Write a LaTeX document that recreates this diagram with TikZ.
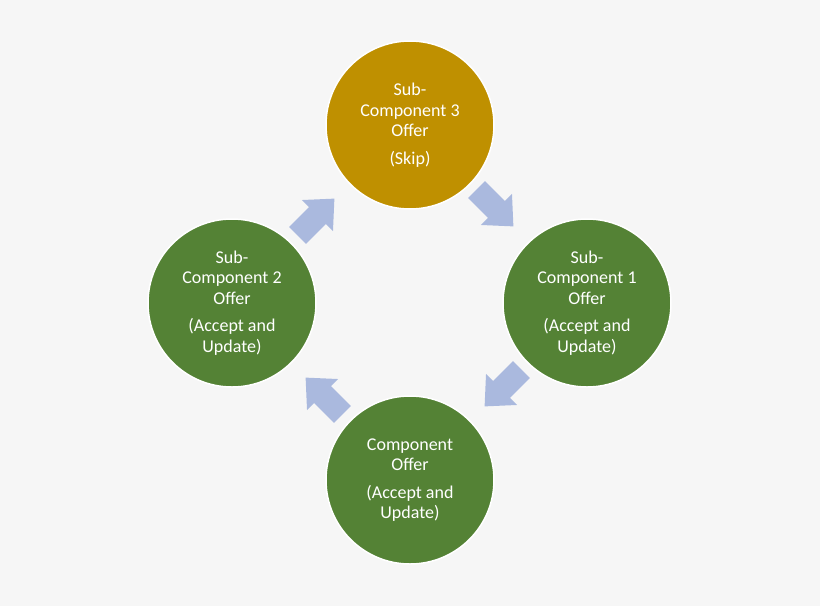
\documentclass[tikz,border=0pt]{standalone}
\usepackage{fontspec}
\setmainfont{Carlito}
\begin{document}
\begin{tikzpicture}[x=1pt,y=-1pt,
  circ/.style={circle,draw=white,line width=1.5pt,minimum size=168pt,inner sep=0pt,text=white,font=\fontsize{18}{20.5}\selectfont,align=center},
  barrow/.style={fill=arrowblue,draw=none}]
\definecolor{bg}{HTML}{F6F6F6}
\definecolor{gold}{HTML}{BF9000}
\definecolor{grn}{HTML}{548235}
\definecolor{arrowblue}{HTML}{AAB9DE}
\fill[bg] (0,0) rectangle (820,606);
\useasboundingbox (0,0) rectangle (820,606);
\node[circ,fill=gold] (c3) at (410,125) {Sub-\\Component 3\\Offer\\[7pt](Skip)};
\node[circ,fill=grn] (c1) at (587,303) {Sub-\\Component 1\\Offer\\[7pt](Accept and\\Update)};
\node[circ,fill=grn] (c0) at (410,480) {Component\\Offer\\[7pt](Accept and\\Update)};
\node[circ,fill=grn] (c2) at (232,303) {Sub-\\Component 2\\Offer\\[7pt](Accept and\\Update)};
\foreach \p/\a in {{(495,208)}/-45, {(503,388)}/-135, {(324,396)}/135, {(316,217)}/45}{
  \fill[barrow,shift={\p},rotate=\a] (-26,-12) -- (2,-12) -- (2,-22) -- (26,0) -- (2,22) -- (2,12) -- (-26,12) -- cycle;
}
\end{tikzpicture}
\end{document}
